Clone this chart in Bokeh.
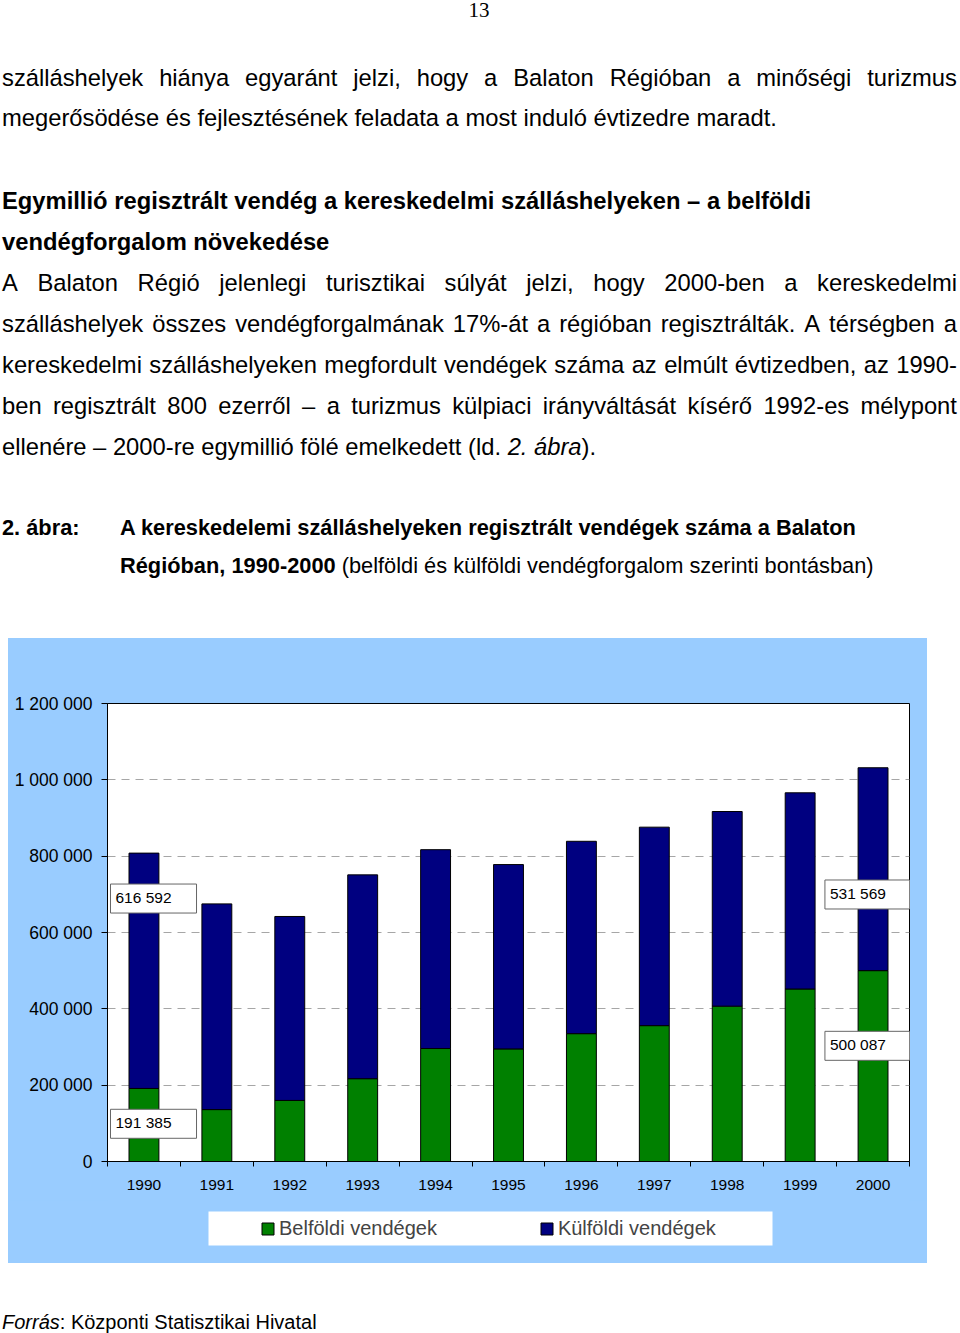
from bokeh.plotting import figure
from bokeh.layouts import column
from bokeh.models import (Div, ColumnDataSource, FixedTicker, Legend, LegendItem,
                          Label, Range1d, BoxAnnotation)
from bokeh.embed import file_html
from bokeh.resources import INLINE

# ---------------- data ----------------
years = ["1990", "1991", "1992", "1993", "1994", "1995", "1996", "1997", "1998", "1999", "2000"]
belfoldi = [191385, 136000, 160000, 217000, 296000, 295000, 335000, 356000, 407000, 452000, 500087]
kulfoldi = [616592, 539000, 482000, 534000, 521000, 483000, 504000, 520000, 510000, 514000, 531569]
series_names = ["Belföldi vendégek", "Külföldi vendégek"]
series_colors = ["#008000", "#000080"]
y_ticks = [0, 200000, 400000, 600000, 800000, 1000000, 1200000]
y_tick_labels = ["0", "200 000", "400 000", "600 000", "800 000", "1 000 000", "1 200 000"]
grid_ticks = [200000, 400000, 600000, 800000, 1000000]
label_texts = ["616 592", "191 385", "531 569", "500 087"]
label_years = [1990, 1990, 2000, 2000]
label_vals = [689000, 98800, 699600, 303100]

page_number = "13"
para1 = ["szálláshelyek hiánya egyaránt jelzi, hogy a Balaton Régióban a minőségi turizmus",
         "megerősödése és fejlesztésének feladata a most induló évtizedre maradt."]
heading = ["Egymillió regisztrált vendég a kereskedelmi szálláshelyeken – a belföldi",
           "vendégforgalom növekedése"]
para2 = ["A Balaton Régió jelenlegi turisztikai súlyát jelzi, hogy 2000-ben a kereskedelmi",
         "szálláshelyek összes vendégforgalmának 17%-át a régióban regisztrálták. A térségben a",
         "kereskedelmi szálláshelyeken megfordult vendégek száma az elmúlt évtizedben, az 1990-",
         "ben regisztrált 800 ezerről – a turizmus külpiaci irányváltását kísérő 1992-es mélypont",
         "ellenére – 2000-re egymillió fölé emelkedett (ld. <i>2. ábra</i>)."]
caption_num = "2. ábra:"
caption1 = "A kereskedelemi szálláshelyeken regisztrált vendégek száma a Balaton"
caption2_bold = "Régióban, 1990-2000"
caption2_rest = " (belföldi és külföldi vendégforgalom szerinti bontásban)"
source_label = "Forrás"
source_text = ": Központi Statisztikai Hivatal"

FONT = "'Liberation Sans', Arial, sans-serif"
BLUE = "#99CCFF"


def top_for(center, size, lh, origin):
    return center - origin - (lh / 2 + 0.087 * size)


def line(center, text, size=23.75, lh=41, left=2, width=955, weight="normal",
         justify=False, origin=0):
    top = top_for(center, size, lh, origin)
    if justify:
        content = "".join(f"<span>{w}</span>" for w in text.split(" "))
        extra = "display:flex;justify-content:space-between;"
    else:
        content = text
        extra = ""
    return (f'<div style="position:absolute;left:{left}px;top:{top:.1f}px;width:{width}px;'
            f'height:{lh}px;line-height:{lh}px;font-size:{size}px;font-weight:{weight};'
            f'white-space:nowrap;{extra}">{content}</div>')


parts = []
parts.append(f'<div style="position:absolute;left:0px;top:-0.5px;width:960px;text-align:center;'
             f'font-family:\'Liberation Serif\',serif;font-size:21px;line-height:21px;">'
             f'<span style="margin-left:-2px">{page_number}</span></div>')
parts.append(line(80, para1[0], justify=True))
parts.append(line(120, para1[1]))
parts.append(line(203, heading[0], weight="bold"))
parts.append(line(244, heading[1], weight="bold"))
for c, t, j in zip([285, 326, 367, 408, 449], para2, [True, True, True, True, False]):
    parts.append(line(c, t, justify=j))
parts.append(line(530, caption_num, size=21.8, lh=38, weight="bold", width=118))
parts.append(line(530, caption1, size=21.8, lh=38, left=120, width=830, weight="bold"))
parts.append(line(568, f"<b>{caption2_bold}</b>{caption2_rest}", size=21.8, lh=38, left=120, width=830))

top_html = (f'<div style="position:relative;width:960px;height:638px;font-family:{FONT};color:#000;">'
            + "".join(parts) + "</div>")
top_div = Div(text=top_html, width=960, height=638, margin=0)

bottom_html = (f'<div style="position:relative;width:960px;height:66px;font-family:{FONT};color:#000;">'
               + line(1324, f"<i>{source_label}</i>{source_text}", size=20, lh=24, origin=1263)
               + "</div>")
bottom_div = Div(text=bottom_html, width=960, height=66, margin=0)

# ---------------- chart ----------------
xs = [int(y) for y in years]
src = ColumnDataSource(dict(x=xs, belfoldi=belfoldi, kulfoldi=kulfoldi))

p = figure(width=919, height=562, x_range=Range1d(1989.5, 2000.5), y_range=Range1d(0, 1200000),
           output_backend="svg", toolbar_location=None,
           min_border_left=99, min_border_right=18, min_border_top=65, min_border_bottom=39,
           border_fill_color=BLUE, background_fill_color="white",
           outline_line_color="black", outline_line_width=1)
p.margin = 0

rs = p.vbar_stack(["belfoldi", "kulfoldi"], x="x", width=0.41, source=src,
                  fill_color=series_colors, line_color="black", line_width=1)

# axes
p.xaxis.ticker = FixedTicker(ticks=xs, minor_ticks=[x - 0.5 for x in xs] + [xs[-1] + 0.5])
p.xaxis.major_label_overrides = {x: y for x, y in zip(xs, years)}
p.xaxis.major_tick_out = 0
p.xaxis.major_tick_in = 0
p.xaxis.minor_tick_out = 5
p.xaxis.minor_tick_in = 0
p.xaxis.minor_tick_line_color = "black"
p.xaxis.major_label_standoff = 13
p.xaxis.major_label_text_font = "Liberation Sans"
p.xaxis.major_label_text_font_size = "15.5px"
p.xaxis.major_label_text_color = "black"
p.xaxis.axis_line_color = "black"

p.yaxis.ticker = FixedTicker(ticks=y_ticks)
p.yaxis.major_label_overrides = {v: s for v, s in zip(y_ticks, y_tick_labels)}
p.yaxis.major_tick_out = 6
p.yaxis.major_tick_in = 0
p.yaxis.major_tick_line_color = "black"
p.yaxis.major_label_standoff = 9
p.yaxis.major_label_text_font = "Liberation Sans"
p.yaxis.major_label_text_font_size = "17.5px"
p.yaxis.major_label_text_color = "black"
p.yaxis.axis_line_color = "black"

p.xgrid.visible = False
p.ygrid.ticker = FixedTicker(ticks=grid_ticks)
p.ygrid.grid_line_color = "#a6a6a6"
p.ygrid.grid_line_dash = "8 6"
p.ygrid.grid_line_width = 1

# data labels with shadow (box anchored at its left edge)
for t, xv, yv in zip(label_texts, label_years, label_vals):
    xl = xv - 0.5 + (0.041 if xv == 1990 else -0.16)
    shadow = Label(x=xl, y=yv, text=t, x_offset=3, y_offset=-3,
                   text_font="Liberation Sans", text_font_size="15.5px", text_alpha=0,
                   text_baseline="middle", text_align="left",
                   background_fill_color="black", padding=(5, 25, 5, 7))
    main = Label(x=xl, y=yv, text=t, text_font="Liberation Sans", text_font_size="15.5px",
                 text_color="black", text_baseline="middle", text_align="left",
                 background_fill_color="white", border_line_color="#666666",
                 border_line_width=1, padding=(5, 25, 5, 7))
    p.add_layout(shadow)
    p.add_layout(main)

# ---------------- legend strip (continues the blue chart area) ----------------
# its frame spans the same columns as the chart frame; ranges are in page pixels
pl = figure(width=919, height=63, x_range=Range1d(107, 909), y_range=Range1d(1263, 1200),
            output_backend="svg", toolbar_location=None,
            min_border_left=99, min_border_right=18, min_border_top=0, min_border_bottom=0,
            border_fill_color=BLUE, background_fill_color=BLUE, outline_line_color=None)
pl.margin = 0
pl.axis.visible = False
pl.grid.visible = False
pl.add_layout(BoxAnnotation(left=208, right=772, top=1211, bottom=1245,
                            fill_color="white", fill_alpha=1, line_alpha=0))
rl = pl.vbar_stack(["belfoldi", "kulfoldi"], x="x", width=0.41, source=src,
                   fill_color=series_colors, line_color="black", line_width=1)
for r in rl:
    r.visible = False

legend = Legend(items=[LegendItem(label=series_names[0], renderers=[rl[0]]),
                       LegendItem(label=series_names[1], renderers=[rl[1]])],
                orientation="horizontal", location=(153, 23),
                background_fill_alpha=0, border_line_alpha=0,
                label_text_font="Liberation Sans", label_text_font_size="20px",
                glyph_width=15, glyph_height=15, label_standoff=4, spacing=102,
                padding=0, margin=0)
pl.add_layout(legend)

chart = column(p, pl, margin=(0, 0, 0, 8), spacing=0,
               styles={"background-color": BLUE})

layout = column(top_div, chart, bottom_div)
open("out.html", "w", encoding="utf-8").write(file_html(layout, INLINE))
